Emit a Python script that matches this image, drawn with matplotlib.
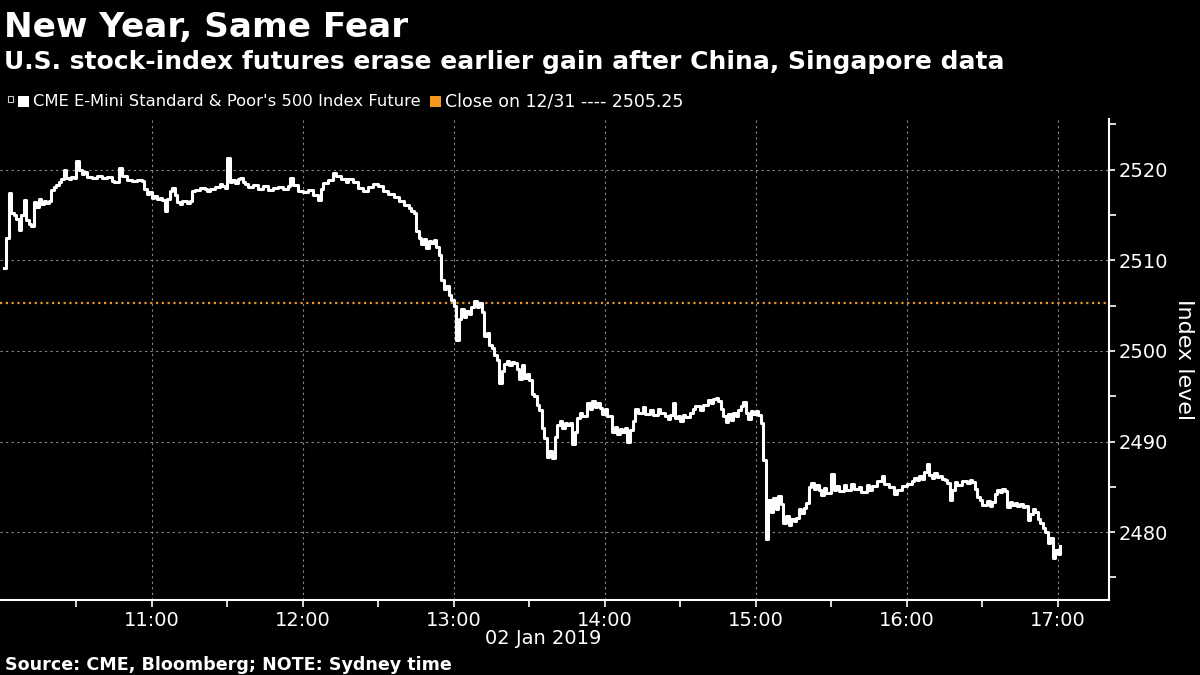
import matplotlib
matplotlib.use("Agg")
import matplotlib.pyplot as plt
import matplotlib.dates as mdates
from matplotlib.patches import Rectangle
import pandas as pd

# S&P 500 e-mini future, 02 Jan 2019, Sydney time
times = [
    "10:01", "10:02", "10:03", "10:04", "10:05", "10:06", "10:07", "10:08", "10:09", "10:10",
    "10:11", "10:12", "10:13", "10:14", "10:15", "10:16", "10:17", "10:18", "10:19", "10:20",
    "10:21", "10:22", "10:23", "10:24", "10:25", "10:26", "10:27", "10:28", "10:29", "10:30",
    "10:31", "10:32", "10:33", "10:34", "10:36", "10:38", "10:40", "10:42", "10:44", "10:45",
    "10:47", "10:48", "10:50", "10:52", "10:54", "10:56", "10:57", "10:58", "10:59", "11:00",
    "11:01", "11:02", "11:03", "11:04", "11:05", "11:06", "11:07", "11:08", "11:09", "11:10",
    "11:11", "11:12", "11:14", "11:15", "11:16", "11:17", "11:19", "11:21", "11:22", "11:23",
    "11:25", "11:27", "11:28", "11:29", "11:30", "11:31", "11:32", "11:33", "11:34", "11:35",
    "11:36", "11:37", "11:38", "11:40", "11:42", "11:44", "11:46", "11:48", "11:50", "11:52",
    "11:54", "11:55", "11:56", "11:58", "12:00", "12:02", "12:04", "12:06", "12:07", "12:08",
    "12:10", "12:12", "12:13", "12:15", "12:17", "12:18", "12:20", "12:22", "12:24", "12:26",
    "12:28", "12:30", "12:32", "12:34", "12:36", "12:38", "12:40", "12:42", "12:43", "12:44",
    "12:45", "12:46", "12:47", "12:48", "12:49", "12:50", "12:51", "12:52", "12:53", "12:54",
    "12:55", "12:56", "12:57", "12:58", "12:59", "13:00", "13:01", "13:02", "13:03", "13:04",
    "13:05", "13:06", "13:07", "13:08", "13:09", "13:10", "13:11", "13:12", "13:13", "13:14",
    "13:15", "13:16", "13:17", "13:18", "13:19", "13:20", "13:21", "13:22", "13:23", "13:24",
    "13:25", "13:26", "13:27", "13:28", "13:29", "13:30", "13:31", "13:32", "13:33", "13:34",
    "13:35", "13:36", "13:37", "13:38", "13:39", "13:40", "13:41", "13:42", "13:43", "13:44",
    "13:45", "13:46", "13:47", "13:48", "13:49", "13:50", "13:51", "13:53", "13:54", "13:55",
    "13:56", "13:57", "13:58", "13:59", "14:00", "14:01", "14:03", "14:04", "14:05", "14:06",
    "14:07", "14:08", "14:09", "14:10", "14:11", "14:12", "14:13", "14:15", "14:16", "14:18",
    "14:19", "14:21", "14:22", "14:24", "14:25", "14:26", "14:27", "14:28", "14:29", "14:30",
    "14:31", "14:32", "14:34", "14:35", "14:36", "14:38", "14:39", "14:41", "14:42", "14:43",
    "14:44", "14:45", "14:46", "14:47", "14:48", "14:49", "14:50", "14:51", "14:52", "14:53",
    "14:54", "14:55", "14:56", "14:57", "14:58", "14:59", "15:00", "15:01", "15:02", "15:03",
    "15:04", "15:05", "15:06", "15:07", "15:08", "15:09", "15:10", "15:11", "15:12", "15:13",
    "15:14", "15:15", "15:16", "15:17", "15:18", "15:19", "15:20", "15:21", "15:22", "15:23",
    "15:24", "15:25", "15:26", "15:27", "15:28", "15:30", "15:31", "15:32", "15:33", "15:35",
    "15:36", "15:38", "15:39", "15:41", "15:42", "15:44", "15:45", "15:46", "15:48", "15:50",
    "15:51", "15:53", "15:55", "15:56", "15:58", "16:00", "16:02", "16:03", "16:04", "16:05",
    "16:06", "16:07", "16:08", "16:09", "16:10", "16:11", "16:12", "16:13", "16:14", "16:15",
    "16:16", "16:17", "16:18", "16:19", "16:20", "16:22", "16:24", "16:25", "16:26", "16:27",
    "16:28", "16:29", "16:30", "16:32", "16:33", "16:34", "16:35", "16:36", "16:37", "16:38",
    "16:39", "16:40", "16:41", "16:42", "16:43", "16:44", "16:45", "16:46", "16:47", "16:48",
    "16:49", "16:50", "16:51", "16:52", "16:53", "16:54", "16:55", "16:56", "16:57", "16:58",
    "16:59", "17:00", "17:01",
]
level = [
    2509.2, 2512.5, 2517.4, 2515.2, 2515.0, 2514.6, 2513.3, 2515.0, 2516.7, 2514.5,
    2514.0, 2513.8, 2516.4, 2515.9, 2516.8, 2516.2, 2516.5, 2516.3, 2516.6, 2517.8,
    2518.1, 2518.3, 2518.6, 2519.0, 2520.0, 2519.1, 2519.0, 2519.2, 2519.1, 2521.0,
    2520.0, 2519.5, 2519.8, 2519.2, 2519.1, 2519.3, 2519.1, 2519.2, 2518.8, 2518.6,
    2520.2, 2519.3, 2518.9, 2518.8, 2518.9, 2518.8, 2517.9, 2517.3, 2517.5, 2516.9,
    2517.1, 2516.8, 2516.9, 2516.7, 2515.4, 2516.8, 2517.6, 2518.0, 2517.2, 2516.4,
    2516.2, 2516.5, 2516.3, 2516.6, 2517.6, 2517.8, 2518.0, 2517.9, 2517.6, 2517.9,
    2518.1, 2518.4, 2518.2, 2518.0, 2521.3, 2518.6, 2518.9, 2518.5, 2519.0, 2519.1,
    2518.6, 2518.4, 2518.1, 2518.3, 2517.9, 2518.2, 2517.8, 2518.0, 2518.1, 2517.9,
    2518.2, 2519.1, 2518.3, 2517.7, 2517.5, 2517.8, 2517.2, 2516.7, 2517.9, 2518.5,
    2518.9, 2519.6, 2519.3, 2519.0, 2518.6, 2519.0, 2518.7, 2518.0, 2517.6, 2518.1,
    2518.4, 2518.2, 2517.6, 2517.3, 2517.0, 2516.6, 2516.1, 2515.8, 2515.5, 2515.2,
    2513.2, 2512.5, 2511.8, 2512.3, 2511.4, 2512.1, 2511.9, 2512.2, 2511.5, 2510.6,
    2507.8, 2506.8, 2507.2, 2506.2, 2505.6, 2505.0, 2501.2, 2503.5, 2504.6, 2503.8,
    2504.4, 2504.1, 2504.8, 2505.5, 2504.9, 2505.3, 2504.3, 2501.6, 2502.0, 2500.6,
    2500.3, 2499.6, 2499.0, 2496.5, 2497.8, 2498.6, 2498.9, 2498.4, 2498.8, 2498.7,
    2498.0, 2496.9, 2498.4, 2497.0, 2497.5, 2496.8, 2495.3, 2495.0, 2494.0, 2493.5,
    2491.5, 2490.4, 2488.3, 2489.0, 2488.2, 2490.5, 2491.8, 2492.3, 2491.5, 2492.1,
    2491.8, 2492.0, 2489.7, 2491.0, 2492.6, 2493.2, 2492.8, 2494.3, 2493.6, 2494.5,
    2493.8, 2494.2, 2493.7, 2493.0, 2493.6, 2492.8, 2491.0, 2491.6, 2490.8, 2491.4,
    2491.0, 2491.5, 2490.0, 2491.3, 2492.3, 2493.6, 2493.2, 2493.8, 2493.0, 2493.5,
    2492.9, 2493.6, 2493.2, 2492.8, 2492.5, 2492.9, 2494.2, 2492.6, 2492.8, 2492.3,
    2492.9, 2492.7, 2493.2, 2493.6, 2493.9, 2493.5, 2494.0, 2494.6, 2494.3, 2494.7,
    2494.8, 2494.5, 2493.6, 2492.8, 2492.2, 2493.0, 2492.4, 2493.1, 2492.8, 2493.5,
    2493.9, 2494.4, 2493.2, 2492.5, 2493.4, 2493.0, 2493.4, 2492.9, 2492.0, 2488.0,
    2479.2, 2483.5, 2482.2, 2483.8, 2482.6, 2484.0, 2483.1, 2481.0, 2481.8, 2480.8,
    2481.5, 2481.2, 2481.6, 2482.6, 2482.1, 2482.7, 2483.2, 2485.0, 2485.4, 2484.8,
    2485.2, 2484.6, 2484.1, 2484.9, 2484.3, 2486.4, 2484.7, 2485.1, 2484.5, 2485.2,
    2484.6, 2485.3, 2484.8, 2485.0, 2484.4, 2485.2, 2484.6, 2485.1, 2485.6, 2486.2,
    2485.3, 2485.0, 2484.2, 2484.7, 2485.1, 2485.3, 2485.6, 2486.0, 2485.7, 2486.2,
    2485.9, 2486.6, 2487.5, 2486.3, 2486.0, 2486.5, 2486.1, 2486.2, 2485.9, 2485.8,
    2485.4, 2483.5, 2484.6, 2485.5, 2485.2, 2485.6, 2485.4, 2485.8, 2485.5, 2484.8,
    2483.9, 2483.5, 2483.0, 2483.4, 2482.9, 2483.3, 2484.2, 2484.7, 2484.4, 2484.8,
    2484.5, 2482.8, 2483.3, 2483.0, 2483.2, 2482.9, 2483.1, 2482.8, 2482.9, 2481.3,
    2482.0, 2482.5, 2482.2, 2481.5, 2481.0, 2480.5, 2480.0, 2478.8, 2479.3, 2477.1,
    2478.0, 2477.6, 2478.5,
]
prev_close = 2505.25
hours = ["11:00", "12:00", "13:00", "14:00", "15:00", "16:00", "17:00"]
y_ticks = [2480, 2490, 2500, 2510, 2520]

day = "2019-01-02 "
t = pd.to_datetime([day + s for s in times])

fig = plt.figure(figsize=(12, 6.75), dpi=100, facecolor="black")
ax = fig.add_axes([0.0, 0.111, 0.924, 0.7127])
ax.set_facecolor("black")

ax.plot(t, level, color="white", lw=2.2, drawstyle="steps-post", zorder=3)
ax.axhline(prev_close, color="#E8962A", lw=1.6, ls=(0, (1, 1.6)), zorder=2)

ax.set_xlim(pd.Timestamp(day + "09:59:36"), pd.Timestamp(day + "17:20:18"))
ax.set_ylim(2472.5, 2525.6)

ax.set_xticks(pd.to_datetime([day + h for h in hours]))
ax.xaxis.set_minor_locator(mdates.MinuteLocator(byminute=[30]))
ax.xaxis.set_major_formatter(mdates.DateFormatter("%H:%M"))
ax.yaxis.tick_right()
ax.set_yticks(y_ticks)
ax.set_yticks([2475, 2485, 2495, 2505, 2515, 2525], minor=True)

for s in ["left", "top"]:
    ax.spines[s].set_visible(False)
for s in ["right", "bottom"]:
    ax.spines[s].set_color("white")
    ax.spines[s].set_linewidth(1.5)

ax.tick_params(axis="both", which="both", colors="white", labelsize=14, direction="out", width=1.2)
ax.tick_params(axis="x", which="both", length=5, pad=3)
ax.tick_params(axis="y", which="major", length=4, pad=3)
ax.tick_params(axis="y", which="minor", length=5)
ax.grid(True, which="major", color="#8a8a8a", ls=(0, (2, 3)), lw=0.8)

ax.set_ylabel("Index level", rotation=270, fontsize=16, color="white", va="center", ha="center")
ax.yaxis.set_label_position("right")
ax.yaxis.set_label_coords(1.077, 0.5)

fig.text(543 / 1200, 1 - 638 / 675, "02 Jan 2019", ha="center", va="center", fontsize=14, color="white")

# titles
fig.text(0.003, 1 - 37 / 675, "New Year, Same Fear", fontsize=24.7, fontweight="bold", color="white", va="baseline")
fig.text(0.003, 1 - 69 / 675, "U.S. stock-index futures erase earlier gain after China, Singapore data",
         fontsize=18, fontweight="bold", color="white", va="baseline")

# legend
fig.patches.append(Rectangle((8 / 1200, 1 - 102 / 675), 5 / 1200, 6 / 675, transform=fig.transFigure,
                             facecolor="none", edgecolor="#cccccc", lw=0.8))
fig.patches.append(Rectangle((18 / 1200, 1 - 107 / 675), 11 / 1200, 11 / 675, transform=fig.transFigure,
                             facecolor="white", edgecolor="none"))
fig.text(33 / 1200, 1 - 101 / 675, "CME E-Mini Standard & Poor's 500 Index Future", fontsize=11.8,
         color="white", va="center")
fig.patches.append(Rectangle((430 / 1200, 1 - 107 / 675), 11 / 1200, 11 / 675, transform=fig.transFigure,
                             facecolor="#F39A1E", edgecolor="none"))
fig.text(445 / 1200, 1 - 101 / 675, "Close on 12/31 ---- 2505.25", fontsize=12.5, color="white", va="center")

fig.text(0.004, 1 - 670 / 675, "Source: CME, Bloomberg; NOTE: Sydney time", fontsize=12.6, fontweight="bold",
         color="white", va="baseline")

fig.savefig("out.png", dpi=100, facecolor="black")
